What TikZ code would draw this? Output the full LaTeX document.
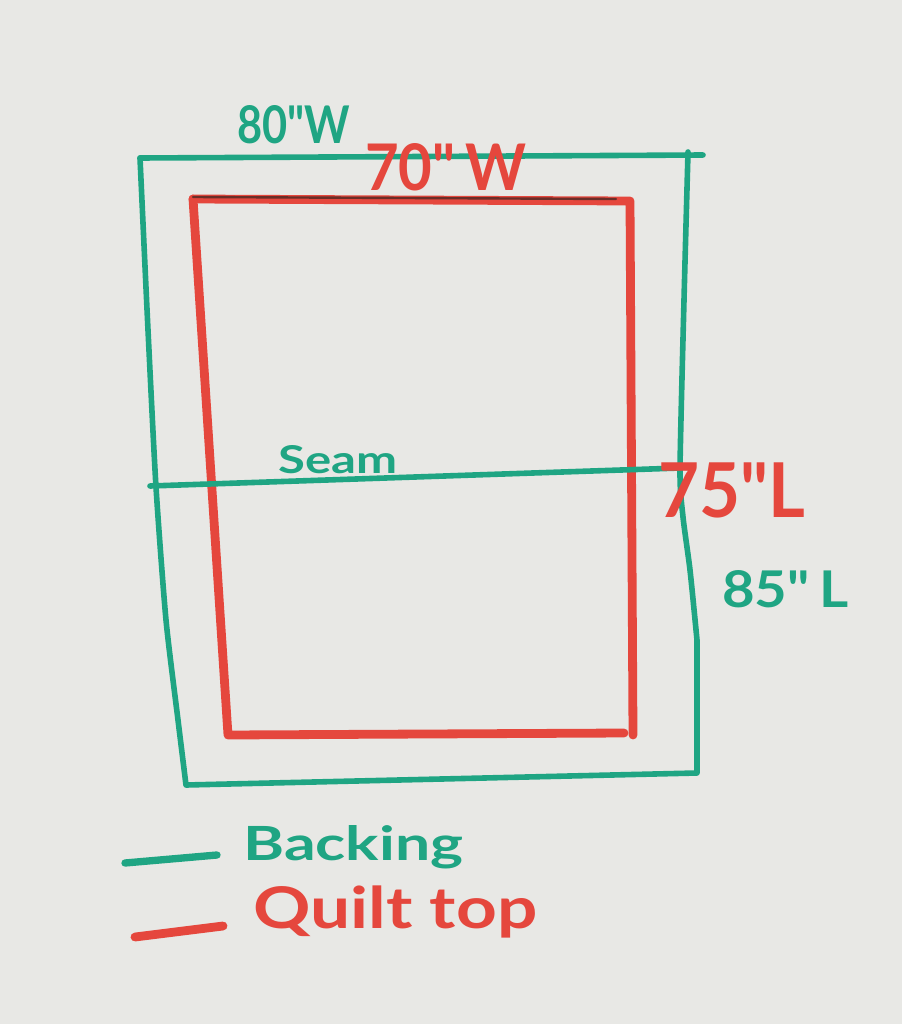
\documentclass[tikz,border=0pt]{standalone}
\usepackage{fontspec}
\setmainfont{Lato}
\usepackage{graphicx}
\definecolor{paper}{HTML}{E8E8E5}
\definecolor{mgreen}{HTML}{1FA583}
\definecolor{mred}{HTML}{E5473D}
\definecolor{dred}{HTML}{6A2E28}
\newcommand{\qq}{\textquotedbl}
\begin{document}
\begin{tikzpicture}[x=0.75pt,y=-0.75pt,
  gline/.style={draw=mgreen,line width=4.2pt,line cap=round,line join=round},
  rline/.style={draw=mred,line width=6.6pt,line cap=round,line join=round},
  glabel/.style={text=mgreen,inner sep=0pt,anchor=base west,font=\bfseries},
  rlabel/.style={text=mred,inner sep=0pt,anchor=base west,font=\bfseries}]
\fill[paper] (0,0) rectangle (902,1024);
\useasboundingbox (0,0) rectangle (902,1024);

% quilt top (red)
\draw[rline] (193,199) -- (630,201) -- (633,735);
\draw[rline] (624,733) -- (228,735) -- (193,199);
\draw[draw=dred,line width=1.8pt,line cap=round] (193,197) -- (616,199);

% backing (green)
\draw[gline] (140,158) -- (703,155);
\draw[gline] plot[smooth,tension=0.4] coordinates {(140,158) (148,330) (156,487) (166,620) (178,720) (186,785)}
  -- (697,773) -- (697,640) plot[smooth,tension=0.4] coordinates {(697,640) (690,570) (683,517) (680,470) (684,300) (688,152)};
% seam
\draw[gline] (150,486) -- (680,468);

% labels
\node[glabel] (w80) at (237,143) {\resizebox{84.75pt}{28.5pt}{80\qq W}};
\node[rlabel] (w70) at (365,190) {\resizebox{120.75pt}{35.25pt}{70\qq\,W}};
\node[glabel] (seam) at (278,473) {\resizebox{89.25pt}{21pt}{Seam}};
\node[rlabel] (l75) at (658,517) {\resizebox{110.25pt}{41pt}{75\qq L}};
\node[glabel] (l85) at (722,607) {\resizebox{94.5pt}{27.75pt}{85\qq\,L}};

% legend
\coordinate (gl1) at (125,863);
\coordinate (gl2) at (217,855);
\coordinate (rl1) at (135,937);
\coordinate (rl2) at (223,926);
\draw[gline,line width=5.5pt] (gl1) -- (gl2);
\draw[rline] (rl1) -- (rl2);
\node[glabel] (backing) at (243,860) {\resizebox{165pt}{26.25pt}{Backing}};
\node[rlabel] (quilttop) at (253,928) {\resizebox{213pt}{32pt}{Quilt top}};
\end{tikzpicture}
\end{document}
